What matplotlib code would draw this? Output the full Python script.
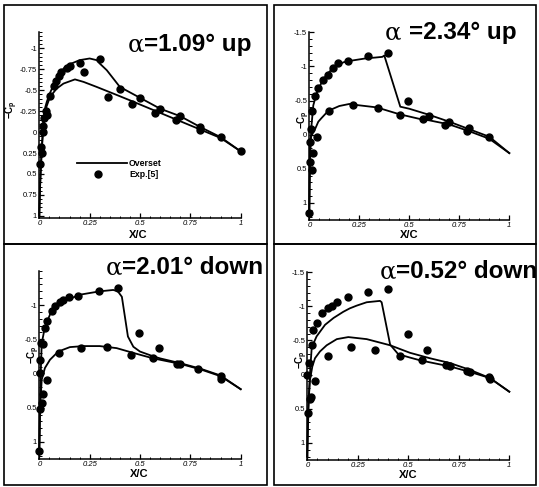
import matplotlib
matplotlib.use("Agg")
import matplotlib.pyplot as plt
from matplotlib.patches import Rectangle
from matplotlib.offsetbox import TextArea, HPacker, AnnotationBbox
from matplotlib.ticker import MultipleLocator, FixedLocator

plt.rcParams['font.family'] = ['Liberation Sans', 'DejaVu Sans']
plt.rcParams['mathtext.fontset'] = 'custom'
plt.rcParams['mathtext.rm'] = 'Liberation Sans'
plt.rcParams['mathtext.bf'] = 'Liberation Sans:bold'

# ---------------- data (x/c, Cp shown on inverted axis) ----------------
# Panel 1: alpha = 1.09 up
p1_up_x = [0, 0.003, 0.008, 0.015, 0.02, 0.03, 0.037, 0.05, 0.07, 0.1, 0.125, 0.15, 0.2, 0.25, 0.285, 0.3, 0.335, 0.4, 0.5, 0.6, 0.7, 0.8, 0.9, 1.0]
p1_up_v = [1.0, 0.7, 0.4, 0.1, -0.16, -0.3, -0.36, -0.45, -0.56, -0.70, -0.77, -0.81, -0.86, -0.88, -0.86, -0.82, -0.74, -0.54, -0.41, -0.28, -0.19, -0.06, 0.06, 0.23]
p1_lo_x = [0, 0.003, 0.008, 0.015, 0.025, 0.035, 0.053, 0.086, 0.12, 0.177, 0.22, 0.285, 0.368, 0.45, 0.5, 0.6, 0.7, 0.8, 0.9, 1.0]
p1_lo_v = [1.0, 0.7, 0.4, 0.1, -0.15, -0.3, -0.42, -0.52, -0.58, -0.63, -0.60, -0.54, -0.46, -0.38, -0.33, -0.23, -0.13, -0.03, 0.07, 0.23]
p1_exp_x = [0.003, 0.007, 0.013, 0.017, 0.02, 0.025, 0.033, 0.04, 0.052, 0.072, 0.085, 0.1, 0.11, 0.14, 0.15, 0.2, 0.22, 0.3, 0.34, 0.4, 0.46, 0.5, 0.575, 0.6, 0.68, 0.7, 0.8, 0.8, 0.9, 1.0]
p1_exp_v = [0.38, 0.18, 0.25, 0.0, -0.07, -0.17, -0.25, -0.21, -0.43, -0.55, -0.61, -0.67, -0.72, -0.77, -0.79, -0.83, -0.72, -0.87, -0.42, -0.52, -0.34, -0.41, -0.23, -0.28, -0.15, -0.19, -0.06, -0.03, 0.06, 0.23]

# Panel 2: alpha = 2.34 up
p2_up_x = [0, 0.002, 0.005, 0.01, 0.02, 0.037, 0.067, 0.1, 0.117, 0.17, 0.2, 0.287, 0.33, 0.365, 0.375, 0.455, 0.5, 0.6, 0.7, 0.8, 0.9, 1.0]
p2_up_v = [1.15, 0.7, 0.3, -0.1, -0.43, -0.61, -0.80, -0.92, -0.97, -1.06, -1.08, -1.12, -1.13, -1.14, -1.16, -0.41, -0.38, -0.29, -0.19, -0.08, 0.03, 0.27]
p2_lo_x = [0, 0.002, 0.004, 0.01, 0.03, 0.045, 0.06, 0.095, 0.15, 0.2, 0.25, 0.337, 0.45, 0.553, 0.6, 0.7, 0.8, 0.9, 1.0]
p2_lo_v = [1.15, 0.5, 0.08, 0.02, -0.09, -0.19, -0.24, -0.35, -0.42, -0.45, -0.43, -0.40, -0.30, -0.23, -0.21, -0.15, -0.05, 0.06, 0.27]
p2_exp_x = [0.0, 0.012, 0.004, 0.017, 0.004, 0.037, 0.007, 0.012, 0.03, 0.045, 0.067, 0.092, 0.117, 0.145, 0.195, 0.295, 0.395, 0.495, 0.098, 0.217, 0.342, 0.453, 0.57, 0.60, 0.68, 0.70, 0.79, 0.80, 0.90]
p2_exp_v = [1.15, 0.52, 0.40, 0.27, 0.10, 0.03, -0.09, -0.34, -0.56, -0.68, -0.80, -0.88, -0.98, -1.05, -1.08, -1.16, -1.19, -0.49, -0.35, -0.44, -0.39, -0.29, -0.23, -0.28, -0.14, -0.18, -0.05, -0.10, 0.04]

# Panel 3: alpha = 2.01 down
p3_up_x = [0, 0.003, 0.007, 0.012, 0.028, 0.053, 0.086, 0.136, 0.2, 0.3, 0.367, 0.39, 0.41, 0.425, 0.44, 0.467, 0.5, 0.566, 0.6, 0.7, 0.8, 0.9, 1.0]
p3_up_v = [1.16, 0.6, 0.0, -0.44, -0.68, -0.86, -0.98, -1.07, -1.15, -1.2, -1.22, -1.2, -1.12, -0.83, -0.54, -0.39, -0.32, -0.25, -0.22, -0.15, -0.07, 0.03, 0.23]
p3_lo_x = [0, 0.004, 0.012, 0.028, 0.053, 0.094, 0.152, 0.22, 0.3, 0.384, 0.467, 0.566, 0.7, 0.8, 0.9, 1.0]
p3_lo_v = [1.16, 0.5, 0.09, -0.08, -0.2, -0.32, -0.385, -0.40, -0.40, -0.37, -0.30, -0.22, -0.14, -0.06, 0.04, 0.23]
p3_exp_x = [0.0, 0.003, 0.012, 0.017, 0.036, 0.002, 0.003, 0.01, 0.017, 0.028, 0.037, 0.061, 0.078, 0.103, 0.12, 0.145, 0.194, 0.298, 0.392, 0.497, 0.596, 0.1, 0.207, 0.335, 0.456, 0.567, 0.683, 0.7, 0.79, 0.9, 0.9]
p3_exp_v = [1.13, 0.52, 0.43, 0.30, 0.09, 0.0, -0.19, -0.44, -0.43, -0.66, -0.76, -0.91, -0.98, -1.05, -1.08, -1.11, -1.13, -1.2, -1.25, -0.59, -0.37, -0.30, -0.37, -0.385, -0.27, -0.22, -0.14, -0.14, -0.07, 0.03, 0.08]

# Panel 4: alpha = 0.52 down
p4_up_x = [0, 0.003, 0.008, 0.015, 0.022, 0.046, 0.088, 0.13, 0.178, 0.21, 0.244, 0.294, 0.36, 0.368, 0.41, 0.45, 0.508, 0.558, 0.607, 0.706, 0.805, 0.904, 1.0]
p4_up_v = [1.2, 0.8, 0.3, -0.1, -0.40, -0.56, -0.73, -0.83, -0.92, -0.97, -1.01, -1.06, -1.08, -1.06, -0.44, -0.30, -0.25, -0.21, -0.18, -0.12, -0.04, 0.05, 0.25]
p4_lo_x = [0, 0.004, 0.013, 0.025, 0.038, 0.063, 0.096, 0.146, 0.203, 0.294, 0.41, 0.508, 0.607, 0.706, 0.805, 0.904, 1.0]
p4_lo_v = [1.2, 0.5, 0.08, -0.12, -0.24, -0.34, -0.43, -0.52, -0.55, -0.52, -0.43, -0.32, -0.24, -0.17, -0.07, 0.05, 0.25]
p4_exp_x = [0.003, 0.013, 0.02, 0.038, 0.0, 0.008, 0.022, 0.03, 0.05, 0.074, 0.1, 0.124, 0.145, 0.203, 0.302, 0.398, 0.5, 0.594, 0.1, 0.216, 0.335, 0.459, 0.57, 0.686, 0.706, 0.79, 0.805, 0.9, 0.904]
p4_exp_v = [0.565, 0.35, 0.33, 0.10, 0.0, -0.17, -0.43, -0.65, -0.76, -0.9, -0.97, -1.01, -1.07, -1.13, -1.21, -1.25, -0.59, -0.36, -0.28, -0.40, -0.36, -0.28, -0.21, -0.14, -0.13, -0.06, -0.04, 0.04, 0.07]

titles_greek = ["α", "α ", "α", "α"]
titles_rest = ["=1.09° up", "=2.34° up", "=2.01° down", "=0.52° down"]

x_ticks = [0, 0.25, 0.5, 0.75, 1]
x_ticklabels = ["0", "0.25", "0.5", "0.75", "1"]
y_ticks_p1 = [-1, -0.75, -0.5, -0.25, 0, 0.25, 0.5, 0.75, 1]
y_ticklabels_p1 = ["-1", "-0.75", "-0.5", "-0.25", "0", "0.25", "0.5", "0.75", "1"]
y_ticks_p2 = [-1.5, -1, -0.5, 0, 0.5, 1]
y_ticklabels_p2 = ["-1.5", "-1", "-0.5", "0", "0.5", "1"]
y_ticks_p3 = [-1, -0.5, 0, 0.5, 1]
y_ticklabels_p3 = ["-1", "-0.5", "0", "0.5", "1"]

legend_labels = ["Overset", "Exp.[5]"]

# ---------------- figure ----------------
W, H = 539, 487
fig = plt.figure(figsize=(W / 100, H / 100), dpi=100)
fig.patch.set_facecolor('white')


def px_axes(l, t, r, b):
    return fig.add_axes([l / W, 1 - b / H, (r - l) / W, (b - t) / H])


# panel frames
for (l, t, r, b) in [(4, 5, 267, 244), (273.5, 5, 536, 244), (4, 244, 267, 485), (273.5, 244, 536, 485)]:
    fig.add_artist(Rectangle((l / W, 1 - b / H), (r - l) / W, (b - t) / H,
                             transform=fig.transFigure, fill=False, edgecolor='black', linewidth=1.2))

panels = [
    dict(box=(39.3, 31.7, 240.7, 218.3), ylim=(1.03, -1.2), yt=y_ticks_p1, ytl=y_ticklabels_p1, yminor=0.05,
         up=(p1_up_x, p1_up_v), lo=(p1_lo_x, p1_lo_v), ex=(p1_exp_x, p1_exp_v),
         title_xy=(252, H - 45), ylab=(12, 110), xlab=(138, 235)),
    dict(box=(309.3, 32.3, 509.3, 220), ylim=(1.25, -1.5), yt=y_ticks_p2, ytl=y_ticklabels_p2, yminor=0.1,
         up=(p2_up_x, p2_up_v), lo=(p2_lo_x, p2_lo_v), ex=(p2_exp_x, p2_exp_v),
         title_xy=(517, H - 33), ylab=(304, 120), xlab=(409, 235)),
    dict(box=(39.3, 270.8, 240.7, 459), ylim=(1.25, -1.5), yt=y_ticks_p3, ytl=y_ticklabels_p3, yminor=0.1,
         up=(p3_up_x, p3_up_v), lo=(p3_lo_x, p3_lo_v), ex=(p3_exp_x, p3_exp_v),
         title_xy=(263, H - 268), ylab=(34, 355), xlab=(139, 474)),
    dict(box=(307.3, 272.2, 509.3, 460), ylim=(1.25, -1.5), yt=y_ticks_p2, ytl=y_ticklabels_p2, yminor=0.1,
         up=(p4_up_x, p4_up_v), lo=(p4_lo_x, p4_lo_v), ex=(p4_exp_x, p4_exp_v),
         title_xy=(537, H - 272), ylab=(302, 360), xlab=(408, 475)),
]

for i, p in enumerate(panels):
    ax = px_axes(*p['box'])
    ax.set_facecolor('none')
    ax.plot(*p['up'], color='black', lw=1.3, clip_on=False, zorder=3)
    ax.plot(*p['lo'], color='black', lw=1.3, clip_on=False, zorder=3)
    ax.plot(*p['ex'], linestyle='none', marker='o', ms=5, color='black', clip_on=False, zorder=4)
    ax.set_xlim(0, 1)
    ax.set_ylim(*p['ylim'])
    for s in ['top', 'right']:
        ax.spines[s].set_visible(False)
    for s in ['left', 'bottom']:
        ax.spines[s].set_linewidth(1.1)
    ax.xaxis.set_major_locator(FixedLocator(x_ticks))
    ax.set_xticklabels(x_ticklabels)
    ax.xaxis.set_minor_locator(MultipleLocator(0.05))
    ax.yaxis.set_major_locator(FixedLocator(p['yt']))
    ax.set_yticklabels(p['ytl'])
    ax.yaxis.set_minor_locator(MultipleLocator(p['yminor']))
    ax.tick_params(which='major', direction='in', length=3.5, width=0.9, labelsize=5.5, pad=1.5)
    ax.tick_params(which='minor', direction='in', length=1.8, width=0.7)
    for lab in ax.get_xticklabels():
        lab.set_fontstyle('italic')

    # title
    ta = TextArea(titles_greek[i], textprops=dict(family='DejaVu Serif', size=17.5, color='black'))
    tb = TextArea(titles_rest[i], textprops=dict(family='Liberation Sans', weight='bold', size=17.5, color='black'))
    box = HPacker(children=[ta, tb], align='baseline', pad=0, sep=0)
    ab = AnnotationBbox(box, p['title_xy'], xycoords='figure pixels', frameon=False,
                        box_alignment=(1, 0.5), pad=0)
    fig.add_artist(ab)

    # axis labels
    fig.text(p['ylab'][0] / W, 1 - p['ylab'][1] / H, r'$\mathbf{-C_p}$', rotation=90,
             ha='center', va='center', fontsize=7)
    fig.text(p['xlab'][0] / W, 1 - p['xlab'][1] / H, 'X/C', ha='center', va='center',
             fontsize=8, fontweight='bold')

    if i == 0:
        ax.plot([0.185, 0.434], [0.37, 0.37], color='black', lw=1.3)
        ax.plot([0.293], [0.506], marker='o', ms=5, color='black', linestyle='none')
        ax.text(0.445, 0.37, legend_labels[0], fontsize=6.3, fontweight='bold', va='center', ha='left')
        ax.text(0.445, 0.506, legend_labels[1], fontsize=6.3, fontweight='bold', va='center', ha='left')

fig.savefig('out.png', dpi=100, facecolor='white')
